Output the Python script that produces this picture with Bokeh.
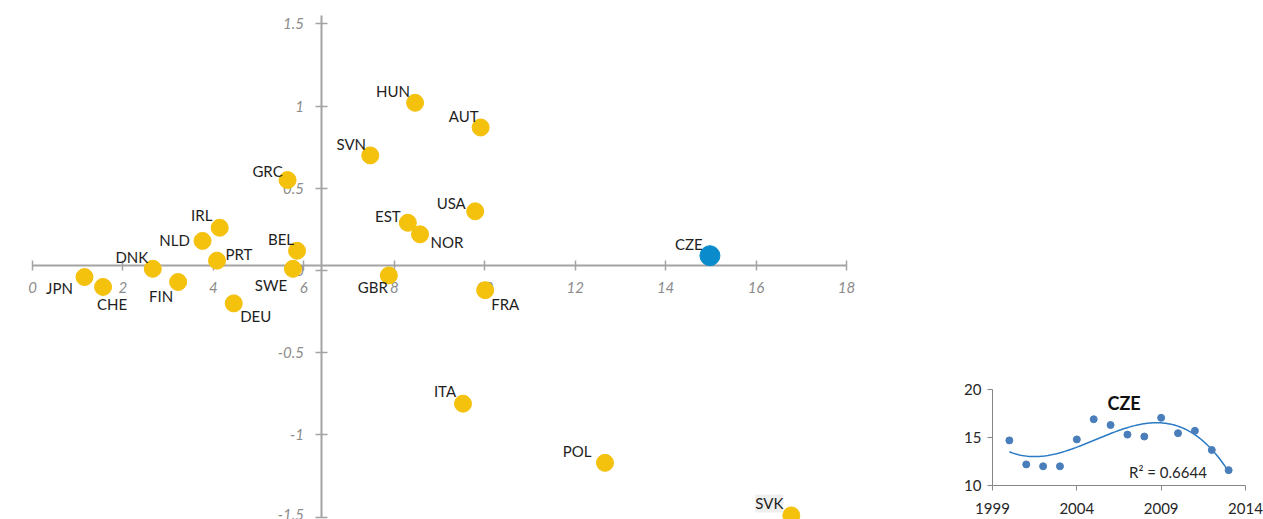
import numpy as np
from bokeh.plotting import figure
from bokeh.models import (ColumnDataSource, FixedTicker, CustomJSTickFormatter, Range1d,
                          Label, LinearAxis)
from bokeh.embed import file_html
from bokeh.resources import INLINE
from bokeh.core.properties import value

# ---------------- data ----------------
countries = ["JPN", "CHE", "DNK", "FIN", "NLD", "IRL", "PRT", "DEU", "GRC", "BEL", "SWE",
             "SVN", "HUN", "EST", "NOR", "GBR", "AUT", "USA", "FRA", "ITA", "POL", "SVK", "CZE"]
x_vals = [1.15, 1.56, 2.66, 3.22, 3.76, 4.14, 4.08, 4.45, 5.64, 5.85, 5.76,
          7.47, 8.46, 8.30, 8.57, 7.88, 9.91, 9.79, 10.01, 9.52, 12.66, 16.78, 14.98]
y_vals = [-0.04, -0.10, 0.01, -0.07, 0.18, 0.26, 0.06, -0.20, 0.55, 0.12, 0.01,
          0.70, 1.02, 0.29, 0.22, -0.03, 0.87, 0.36, -0.12, -0.81, -1.17, -1.49, 0.09]
highlight = "CZE"

x_ticks = [0, 2, 4, 6, 8, 10, 12, 14, 16, 18]
y_ticks = [-1.5, -1, -0.5, 0, 0.5, 1, 1.5]
x_axis_cross = 0.03   # y value where the horizontal axis is drawn
y_axis_cross = 6.4    # x value where the vertical axis is drawn

inset_title = "CZE"
inset_years = [2000, 2001, 2002, 2003, 2004, 2005, 2006, 2007, 2008, 2009, 2010, 2011, 2012, 2013]
inset_values = [14.7, 12.2, 12.0, 12.0, 14.8, 16.9, 16.3, 15.3, 15.1, 17.05, 15.45, 15.7, 13.7, 11.6]
inset_x_ticks = [1999, 2004, 2009, 2014]
inset_y_ticks = [10, 15, 20]
r2_text = "R² = 0.6644"

# ---------------- styling ----------------
FONT = "Lato"
YELLOW = "#F4C10D"
BLUE = "#0A8BCB"
AXIS_GREY = "#A3A3A3"
TICK_LABEL_GREY = "#8C8C8C"
LABEL_COLOR = "#1E1E1E"

# label offsets in screen pixels (dx, dy; dy positive = down)
label_offsets = {
    "JPN": (-25, 11), "CHE": (9, 17), "DNK": (-21, -12), "FIN": (-17, 14), "NLD": (-28, -1),
    "IRL": (-18, -13), "PRT": (22, -7), "DEU": (22, 13), "GRC": (-20, -9), "BEL": (-16, -12),
    "SWE": (-22, 16), "SVN": (-19, -11), "HUN": (-22, -12), "EST": (-20, -7), "NOR": (27, 8),
    "GBR": (-16, 12), "AUT": (-17, -11), "USA": (-24, -8), "FRA": (20, 14), "ITA": (-18, -13),
    "POL": (-28, -12), "SVK": (-22, -12), "CZE": (-21, -12),
}

colors = [BLUE if c == highlight else YELLOW for c in countries]
sizes = [20 if c == highlight else 17 for c in countries]
bg_alpha = [1.0 if c == "SVK" else 0.0 for c in countries]

src = ColumnDataSource(dict(
    x=x_vals, y=y_vals, name=countries, color=colors, size=sizes,
    dx=[label_offsets[c][0] for c in countries],
    dy=[label_offsets[c][1] for c in countries],
    bga=bg_alpha,
))

# ---------------- figure (main scatter + inset share one canvas) ----------------
W, H = 1263, 519
p = figure(width=W, height=H,
           x_range=Range1d(-0.7077, 27.222), y_range=Range1d(-1.5146, 1.6423),
           output_backend="svg", toolbar_location=None, min_border=0)
p.outline_line_color = None
p.xgrid.visible = False
p.ygrid.visible = False
p.background_fill_color = "white"

for ax in (p.xaxis[0], p.yaxis[0]):
    ax.axis_line_color = AXIS_GREY
    ax.axis_line_width = 2
    ax.major_tick_line_color = AXIS_GREY
    ax.major_tick_line_width = 1.5
    ax.minor_tick_line_color = None
    ax.major_label_text_font = FONT
    ax.major_label_text_font_style = "italic"
    ax.major_label_text_font_size = "15px"
    ax.major_label_text_color = TICK_LABEL_GREY
    ax.level = "underlay"

p.xaxis.fixed_location = x_axis_cross
p.yaxis.fixed_location = y_axis_cross
p.xaxis.ticker = FixedTicker(ticks=x_ticks)
p.yaxis.ticker = FixedTicker(ticks=y_ticks)
p.xaxis.bounds = (min(x_ticks), max(x_ticks))
p.yaxis.bounds = (min(y_ticks), 1.55)
p.xaxis.major_tick_in = 5
p.xaxis.major_tick_out = 5
p.xaxis.major_label_standoff = 11
p.yaxis.major_tick_in = 6
p.yaxis.major_tick_out = 6
p.yaxis.major_label_standoff = 12
p.yaxis.formatter = CustomJSTickFormatter(code="return String(tick);")

p.scatter("x", "y", size="size", fill_color="color", line_color="color", source=src)
p.text("x", "y", text="name", x_offset="dx", y_offset="dy", source=src,
       text_font=value(FONT), text_font_size="15px", text_color=LABEL_COLOR,
       text_align="center", text_baseline="middle",
       background_fill_color="#EFEFEF", background_fill_alpha="bga")

# ---------------- inset (own ranges on the same canvas) ----------------
p.extra_x_ranges = {"ix": Range1d(1940.187, 2015.067)}
p.extra_y_ranges = {"iy": Range1d(6.458, 60.521)}

ix_axis = LinearAxis(x_range_name="ix", y_range_name="iy", fixed_location=min(inset_y_ticks),
                     bounds=(min(inset_x_ticks), max(inset_x_ticks)),
                     ticker=FixedTicker(ticks=inset_x_ticks))
iy_axis = LinearAxis(x_range_name="ix", y_range_name="iy", fixed_location=min(inset_x_ticks),
                     bounds=(min(inset_y_ticks), max(inset_y_ticks)),
                     ticker=FixedTicker(ticks=inset_y_ticks))
for ax in (ix_axis, iy_axis):
    ax.axis_line_color = "#868686"
    ax.axis_line_width = 1
    ax.major_tick_line_color = "#868686"
    ax.minor_tick_line_color = None
    ax.major_tick_in = 0
    ax.major_tick_out = 5
    ax.major_label_text_font = FONT
    ax.major_label_text_font_size = "15px"
    ax.major_label_text_color = "#262626"
ix_axis.major_label_standoff = 13
iy_axis.major_label_standoff = 6
p.add_layout(ix_axis, "below")
p.add_layout(iy_axis, "left")

# polynomial (order 3) trendline fitted to the series
yrs = np.array(inset_years, dtype=float)
vals = np.array(inset_values, dtype=float)
coef = np.polyfit(yrs - yrs[0], vals, 3)
tx = np.linspace(yrs[0], yrs[-1], 120)
ty = np.polyval(coef, tx - yrs[0])
p.line(tx, ty, line_color="#2B7BC4", line_width=1.5, x_range_name="ix", y_range_name="iy")
p.scatter(inset_years, inset_values, size=7, fill_color="#4A7EBB", line_color="#4A7EBB",
          x_range_name="ix", y_range_name="iy")

p.add_layout(Label(x=2006.8, y=18.55, text=inset_title, text_font=FONT, text_font_size="18px",
                   text_font_style="bold", text_align="center", text_baseline="middle",
                   text_color="#111111", x_range_name="ix", y_range_name="iy"))
p.add_layout(Label(x=2009.4, y=11.4, text=r2_text, text_font=FONT, text_font_size="15px",
                   text_align="center", text_baseline="middle", text_color="#262626",
                   x_range_name="ix", y_range_name="iy"))

open("out.html", "w").write(file_html(p, INLINE))
